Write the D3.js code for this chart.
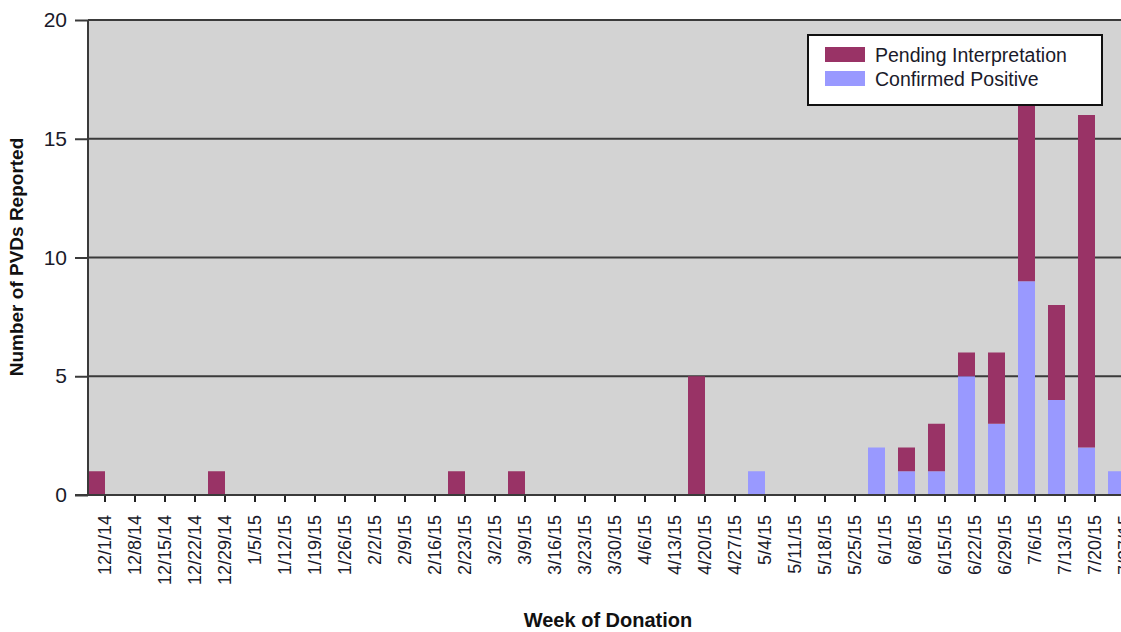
<!DOCTYPE html>
<html>
<head>
<meta charset="utf-8">
<script src="https://cdn.jsdelivr.net/npm/d3@7"></script>
<style>
  body { margin: 0; background: #fff; }
  text { font-family: Arial, "Liberation Sans", sans-serif; }
</style>
</head>
<body>
<svg id="chart" width="1121" height="632"></svg>
<script>
// weeks of donation
var weeks = ["12/1/14","12/8/14","12/15/14","12/22/14","12/29/14","1/5/15","1/12/15","1/19/15","1/26/15",
  "2/2/15","2/9/15","2/16/15","2/23/15","3/2/15","3/9/15","3/16/15","3/23/15","3/30/15","4/6/15","4/13/15",
  "4/20/15","4/27/15","5/4/15","5/11/15","5/18/15","5/25/15","6/1/15","6/8/15","6/15/15","6/22/15",
  "6/29/15","7/6/15","7/13/15","7/20/15","7/27/15"];
var confirmed = [0,0,0,0,0,0,0,0,0, 0,0,0,0,0,0,0,0,0,0,0, 0,0,1,0,0,0,2,1,1,5, 3,9,4,2,1];
var pending   = [1,0,0,0,1,0,0,0,0, 0,0,0,1,0,1,0,0,0,0,0, 5,0,0,0,0,0,0,1,2,1, 3,8,4,14,0];
var yTicks = [0, 5, 10, 15, 20];

var svg = d3.select("#chart");
var plotLeft = 88, plotTop = 20, plotBottom = 495;

var x = d3.scaleBand()
    .domain(weeks)
    .range([plotLeft, plotLeft + 30 * 35 - 13])
    .paddingInner(13 / 30)
    .paddingOuter(0)
    .align(0);

var y = d3.scaleLinear().domain([0, 20]).range([plotBottom, plotTop]);

// plot background
svg.append("rect")
    .attr("x", plotLeft).attr("y", plotTop)
    .attr("width", 1121 - plotLeft).attr("height", plotBottom - plotTop)
    .attr("fill", "#d3d3d3");

// gridlines + y axis
var yAxis = d3.axisLeft(y).tickValues(yTicks).tickSize(13).tickPadding(8);
var gy = svg.append("g").attr("transform", "translate(" + plotLeft + ",0)").call(yAxis);
gy.select(".domain").remove();
gy.selectAll(".tick line").attr("stroke", "#3a3a3a").attr("stroke-width", 2);
gy.selectAll(".tick text").attr("font-size", 21).attr("fill", "#1a1a2a");
svg.append("g").selectAll("line")
    .data(yTicks.filter(function(d) { return d > 0; }))
    .enter().append("line")
    .attr("x1", plotLeft).attr("x2", 1121)
    .attr("y1", function(d) { return y(d); })
    .attr("y2", function(d) { return y(d); })
    .attr("stroke", "#3a3a3a").attr("stroke-width", 2);

// stacked bars
var rows = weeks.map(function(w, i) { return {week: w, confirmed: confirmed[i], pending: pending[i]}; });
var stack = d3.stack().keys(["confirmed", "pending"])(rows);
var colors = {confirmed: "#9999ff", pending: "#993366"};

svg.append("g").selectAll("g")
    .data(stack)
    .enter().append("g")
    .attr("fill", function(d) { return colors[d.key]; })
  .selectAll("rect")
    .data(function(d) { return d; })
    .enter().append("rect")
    .attr("x", function(d) { return x(d.data.week); })
    .attr("y", function(d) { return y(d[1]); })
    .attr("width", x.bandwidth())
    .attr("height", function(d) { return y(d[0]) - y(d[1]); });

// y axis line
svg.append("line")
    .attr("x1", plotLeft).attr("x2", plotLeft).attr("y1", plotTop).attr("y2", plotBottom)
    .attr("stroke", "#3a3a3a").attr("stroke-width", 2);

// x axis
var xAxis = d3.axisBottom(x).tickSize(7).tickPadding(4).tickSizeOuter(0);
var gx = svg.append("g").attr("transform", "translate(" + x.bandwidth() / 2 + "," + plotBottom + ")").call(xAxis);
gx.select(".domain").remove();
gx.selectAll(".tick line").attr("stroke", "#222").attr("stroke-width", 2);
gx.selectAll(".tick text")
    .attr("font-size", 18)
    .attr("fill", "#1a1a2a")
    .attr("text-anchor", "end")
    .attr("transform", "rotate(-90)")
    .attr("x", -20).attr("y", 0).attr("dy", "0.32em");
svg.append("line")
    .attr("x1", plotLeft - 13).attr("x2", 1121).attr("y1", plotBottom).attr("y2", plotBottom)
    .attr("stroke", "#3a3a3a").attr("stroke-width", 2);

// axis titles
svg.append("text")
    .attr("x", 608).attr("y", 627)
    .attr("text-anchor", "middle")
    .attr("font-size", 20).attr("font-weight", "bold").attr("fill", "#111")
    .text("Week of Donation");
svg.append("text")
    .attr("transform", "translate(23,257) rotate(-90)")
    .attr("text-anchor", "middle")
    .attr("font-size", 19).attr("font-weight", "bold").attr("fill", "#111")
    .text("Number of PVDs Reported");

// legend
var legend = svg.append("g");
legend.append("rect")
    .attr("x", 808).attr("y", 35).attr("width", 294).attr("height", 70)
    .attr("fill", "#fff").attr("stroke", "#111").attr("stroke-width", 2);
var items = [{label: "Pending Interpretation", key: "pending"}, {label: "Confirmed Positive", key: "confirmed"}];
items.forEach(function(it, i) {
    legend.append("rect")
        .attr("x", 825).attr("y", 47 + i * 24).attr("width", 40).attr("height", 15)
        .attr("fill", colors[it.key]);
    legend.append("text")
        .attr("x", 875).attr("y", 62 + i * 24)
        .attr("font-size", 19.5).attr("fill", "#1a1a2a")
        .text(it.label);
});
</script>
</body>
</html>
